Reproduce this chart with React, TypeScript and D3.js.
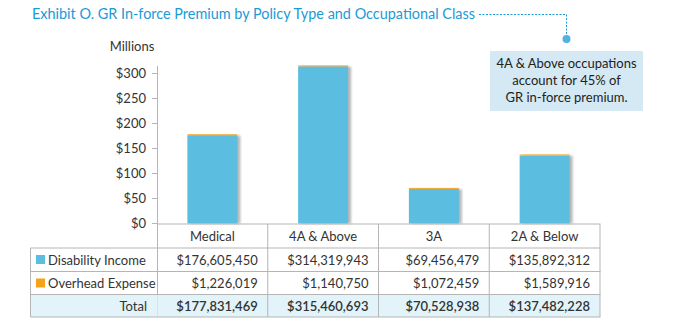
import React from "react";
import * as d3 from "d3";

const categories = ["Medical", "4A & Above", "3A", "2A & Below"];
const disabilityIncome = [176605450, 314319943, 69456479, 135892312];
const overheadExpense = [1226019, 1140750, 1072459, 1589916];
const totals = [177831469, 315460693, 70528938, 137482228];
const yTicks = [0, 50, 100, 150, 200, 250, 300];
const seriesNames = ["Disability Income", "Overhead Expense"];
const noteLines = ["4A & Above occupations", "account for 45% of", "GR in-force premium."];

const BLUE = "#5bbde0";
const ORANGE = "#f5a31a";
const TITLE = "#1b9ad6";
const FONT = "Lato, 'Open Sans', sans-serif";

export default function App() {
  const W = 674, H = 325;
  const x = d3.scaleBand<string>().domain(categories).range([157, 600]).paddingInner(0).paddingOuter(0);
  const y = d3.scaleLinear().domain([0, 300]).range([223.5, 73.5]);
  const barW = 50;
  const fmt = (v: number) => "$" + d3.format(",")(v);
  const rows = [
    { label: seriesNames[0], vals: disabilityIncome, color: BLUE },
    { label: seriesNames[1], vals: overheadExpense, color: ORANGE },
  ];
  const rowY = [224, 248, 271.5, 294.5, 317];
  const grid = "#b5b5b5";
  return (
    <svg width={W} height={H} style={{ position: "absolute", left: 0, top: 0, fontFamily: FONT }}>
      <defs>
        <filter id="sh" x="-20%" y="-5%" width="140%" height="110%">
          <feGaussianBlur stdDeviation="1.2" />
        </filter>
      </defs>
      {/* title */}
      <text x={32} y={18.5} fontSize={14.5} fill={TITLE} textLength={443} lengthAdjust="spacingAndGlyphs">Exhibit O. GR In-force Premium by Policy Type and Occupational Class</text>
      <path d="M479,14.5 H566.5 V37" fill="none" stroke={TITLE} strokeWidth={1} strokeDasharray="2,1.5" />
      <circle cx={566.5} cy={39} r={4} fill="#4fb3e0" />
      {/* note */}
      <rect x={490} y={51} width={153} height={60} fill="#d4e9f4" />
      {noteLines.map((t, i) => (
        <text key={i} x={566.5} y={68 + i * 17} fontSize={13} fill="#222" textAnchor="middle">{t}</text>
      ))}
      {/* Millions */}
      <text x={132} y={51} fontSize={13} fill="#333" textAnchor="middle">Millions</text>
      {/* y axis */}
      <line x1={157.5} x2={157.5} y1={66} y2={rowY[4]} stroke={grid} />
      {yTicks.map((t) => (
        <g key={t}>
          <line x1={152} x2={157} y1={y(t)} y2={y(t)} stroke={grid} />
          <text x={146} y={y(t) + 4.5} fontSize={13} fill="#333" textAnchor="end">{"$" + t}</text>
        </g>
      ))}
      {/* bars */}
      {categories.map((c, i) => {
        const cx = (x(c) as number) + x.bandwidth() / 2;
        const di = disabilityIncome[i] / 1e6;
        const oe = overheadExpense[i] / 1e6;
        const top = y(di + oe);
        return (
          <g key={c}>
            <rect x={cx - barW / 2 + 3} y={top + 1} width={barW} height={y(0) - top - 1} fill="#888" opacity={0.6} filter="url(#sh)" />
            <rect x={cx - barW / 2} y={y(di)} width={barW} height={y(0) - y(di)} fill={BLUE} />
            <rect x={cx - barW / 2} y={top - 0.3} width={barW} height={Math.max(y(di) - top, 0.9)} fill={ORANGE} />
          </g>
        );
      })}
      {/* table */}
      <rect x={157.5} y={294.5} width={442.5} height={22.5} fill="#e2f3fa" />
      <rect x={30.5} y={294.5} width={127} height={22.5} fill="#e2f3fa" />
      <line x1={157} x2={600.5} y1={224} y2={224} stroke={grid} />
      {rowY.slice(1).map((ry, i) => (
        <line key={i} x1={30.5} x2={600.5} y1={ry} y2={ry} stroke={grid} />
      ))}
      <line x1={30.5} x2={30.5} y1={rowY[1]} y2={rowY[4]} stroke={grid} />
      {categories.map((c) => {
        const r = (x(c) as number) + x.bandwidth();
        return <line key={c} x1={r} x2={r} y1={224} y2={rowY[4]} stroke={grid} />;
      })}
      {categories.map((c) => (
        <text key={c} x={(x(c) as number) + x.bandwidth() / 2} y={241} fontSize={13} fill="#333" textAnchor="middle">{c}</text>
      ))}
      {rows.map((r, ri) => (
        <g key={r.label}>
          <rect x={36} y={rowY[ri + 1] + 7} width={9} height={9} fill={r.color} />
          <text x={48} y={rowY[ri + 1] + 16.5} fontSize={13} fill="#333">{r.label}</text>
          {r.vals.map((v, i) => (
            <text key={i} x={(x(categories[i]) as number) + x.bandwidth() - 10} y={rowY[ri + 1] + 16.5} fontSize={13} fill="#333" textAnchor="end">{fmt(v)}</text>
          ))}
        </g>
      ))}
      <text x={147} y={rowY[3] + 16.5} fontSize={13} fill="#333" textAnchor="end">Total</text>
      {totals.map((v, i) => (
        <text key={i} x={(x(categories[i]) as number) + x.bandwidth() - 10} y={rowY[3] + 16.5} fontSize={13} fontWeight={600} fill="#333" textAnchor="end">{fmt(v)}</text>
      ))}
    </svg>
  );
}
